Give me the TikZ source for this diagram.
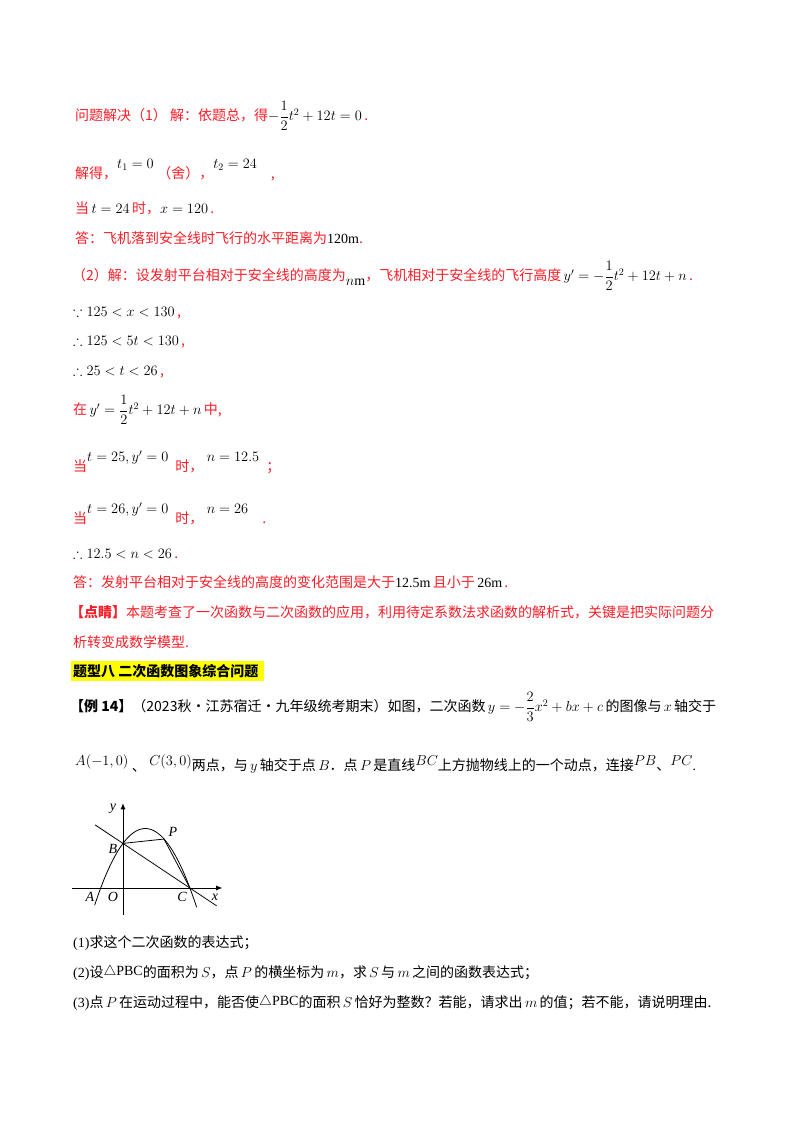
\documentclass[tikz,border=0pt]{standalone}
\usepackage{amsmath,amssymb}
\usepackage{fontspec}
\setmainfont{Liberation Serif}
\newfontfamily\cjk{Noto Sans CJK SC}
\usetikzlibrary{arrows.meta}
\definecolor{rd}{RGB}{250,30,40}
\definecolor{hl}{RGB}{255,255,0}
\newcommand\Rc[1]{\textcolor{rd}{\cjk #1}}
\newcommand\Bc[1]{{\cjk #1}}
\tikzset{ln/.style={anchor=west,inner sep=0pt,font=\fontsize{14}{17}\selectfont},
 lab/.style={inner sep=0pt,font=\fontsize{14}{17}\selectfont\itshape},
 thin line/.style={line width=0.8pt}}
\begin{document}
\begin{tikzpicture}[x=1pt,y=1pt]
\useasboundingbox (0,0) rectangle (800,-1132);
\fill[white] (0,0) rectangle (800,-1132);
\node[ln] (l1) at (75,-116) {\Rc{问题解决（1）\ 解：依题总，得}$-\dfrac12t^2+12t=0$\,\Rc{.}};
\node[ln] (l2) at (75,-170) {\Rc{解得，}\raisebox{10pt}{$t_1=0$}\ \Rc{（舍），}\raisebox{10pt}{$t_2=24$}\quad\Rc{,}};
\node[ln] (l3) at (75,-208) {\Rc{当}\,$t=24$\,\Rc{时，}$x=120$\,\Rc{.}};
\node[ln] (l4) at (75,-238) {\Rc{答：飞机落到安全线时飞行的水平距离为}120m\Rc{.}};
\node[ln] (l5) at (72,-276) {\Rc{（2）解：设发射平台相对于安全线的高度为}\raisebox{-5pt}{$n$m}\Rc{，飞机相对于安全线的飞行高度}\,$y'=-\dfrac12t^2+12t+n$\,\Rc{.}};
\node[ln] (l6) at (73,-313) {$\because125<x<130$\,\Rc{,}};
\node[ln] (l7) at (73,-342) {$\therefore125<5t<130$\,\Rc{,}};
\node[ln] (l8) at (73,-372) {$\therefore25<t<26$\,\Rc{,}};
\node[ln] (l9) at (73,-410) {\Rc{在}\,$y'=\dfrac12t^2+12t+n$\,\Rc{中,}};
\node[ln] (l10) at (73,-462) {\Rc{当}\raisebox{10pt}{$t=25,y'=0$}\ \ \Rc{时，}\ \raisebox{10pt}{$n=12.5$}\ \ \Rc{；}};
\node[ln] (l11) at (73,-514) {\Rc{当}\raisebox{10pt}{$t=26,y'=0$}\ \ \Rc{时，}\ \raisebox{10pt}{$n=26$}\quad\Rc{.}};
\node[ln] (l12) at (73,-554) {$\therefore12.5<n<26$\,\Rc{.}};
\node[ln] (l13) at (73,-582) {\Rc{答：发射平台相对于安全线的高度的变化范围是大于}12.5m\,\Rc{且小于}\,26m\,\Rc{.}};
\node[ln] (l14) at (70,-612) {\textcolor{rd}{\cjk\bfseries【点睛】}\Rc{本题考查了一次函数与二次函数的应用，利用待定系数法求函数的解析式，关键是把实际问题分}};
\node[ln] (l15) at (73,-642) {\Rc{析转变成数学模型.}};
\fill[hl] (71,-661) rectangle (264,-681);
\node[ln] (l16) at (73,-671) {\cjk\bfseries 题型八\ 二次函数图象综合问题};
\node[ln] (l17) at (70,-707) {\Bc{\bfseries【例 14】}\Bc{（2023秋·江苏宿迁·九年级统考期末）如图，二次函数}\,$y=-\dfrac23x^2+bx+c$\,\Bc{的图像与}\,$x$\,\Bc{轴交于}};
\node[ln] (l18) at (75,-764) {$A(-1,0)$\ \raisebox{-6pt}{\Bc{、}}\ $C(3,0)$\raisebox{-5pt}{\Bc{两点，与}\,$y$\,\Bc{轴交于点}\,$B$\Bc{．点}\,$P$\,\Bc{是直线}}$BC$\raisebox{-5pt}{\Bc{上方抛物线上的一个动点，连接}}$PB$\raisebox{-5pt}{\Bc{、}}$PC$\raisebox{-5pt}{.}};
% figure
\begin{scope}[shift={(123,-888)},x=22.3pt,y=22.3pt]
\coordinate (O) at (0,0);
\coordinate (Bp) at (0,2);
\coordinate (Cp) at (3,0);
\coordinate (Pp) at (1.84,2.196);
\coordinate (L1) at (-1.25,2.83);
\coordinate (L2) at (4.2,-0.8);
\coordinate (xa) at (-2.3,0);\coordinate (xb) at (4.45,0);
\coordinate (ya) at (0,-1.2);\coordinate (yb) at (0,3.8);
\draw[thin line,-{Latex[length=6pt,width=5pt]}] (xa) -- (xb);
\draw[thin line,-{Latex[length=6pt,width=5pt]}] (ya) -- (yb);
\draw[thin line,domain=-1.27:3.3,samples=80] plot (\x,{-2/3*\x*\x+4/3*\x+2});
\draw[thin line] (L1) -- (Bp) -- (Cp) -- (L2);
\draw[thin line] (Bp) -- (Pp) -- (Cp);
\fill (Bp) circle (1pt);
\end{scope}
\node[lab] (ny) at (113,-809) {y};
\node[lab] (nx) at (215,-897) {x};
\node[lab] (nA) at (90,-897) {A};
\node[lab] (nO) at (113,-897) {O};
\node[lab] (nC) at (182,-897) {C};
\node[lab] (nB) at (113,-849) {B};
\node[lab] (nP) at (173,-832) {P};
\node[ln] (q1) at (73,-943) {(1)\Bc{求这个二次函数的表达式；}};
\node[ln] (q2) at (73,-973) {(2)\Bc{设}\raisebox{2pt}{$\triangle$PBC}\Bc{的面积为}\,$S$\Bc{，点}\,$P$\,\Bc{的横坐标为}\,$m$\Bc{，求}\,$S$\,\Bc{与}\,$m$\,\Bc{之间的函数表达式；}};
\node[ln] (q3) at (73,-1003) {(3)\Bc{点}\,$P$\,\Bc{在运动过程中，能否使}\raisebox{2pt}{$\triangle$PBC}\Bc{的面积}\,$S$\,\Bc{恰好为整数？若能，请求出}\,$m$\,\Bc{的值；若不能，请说明理由.}};
\end{tikzpicture}
\end{document}
